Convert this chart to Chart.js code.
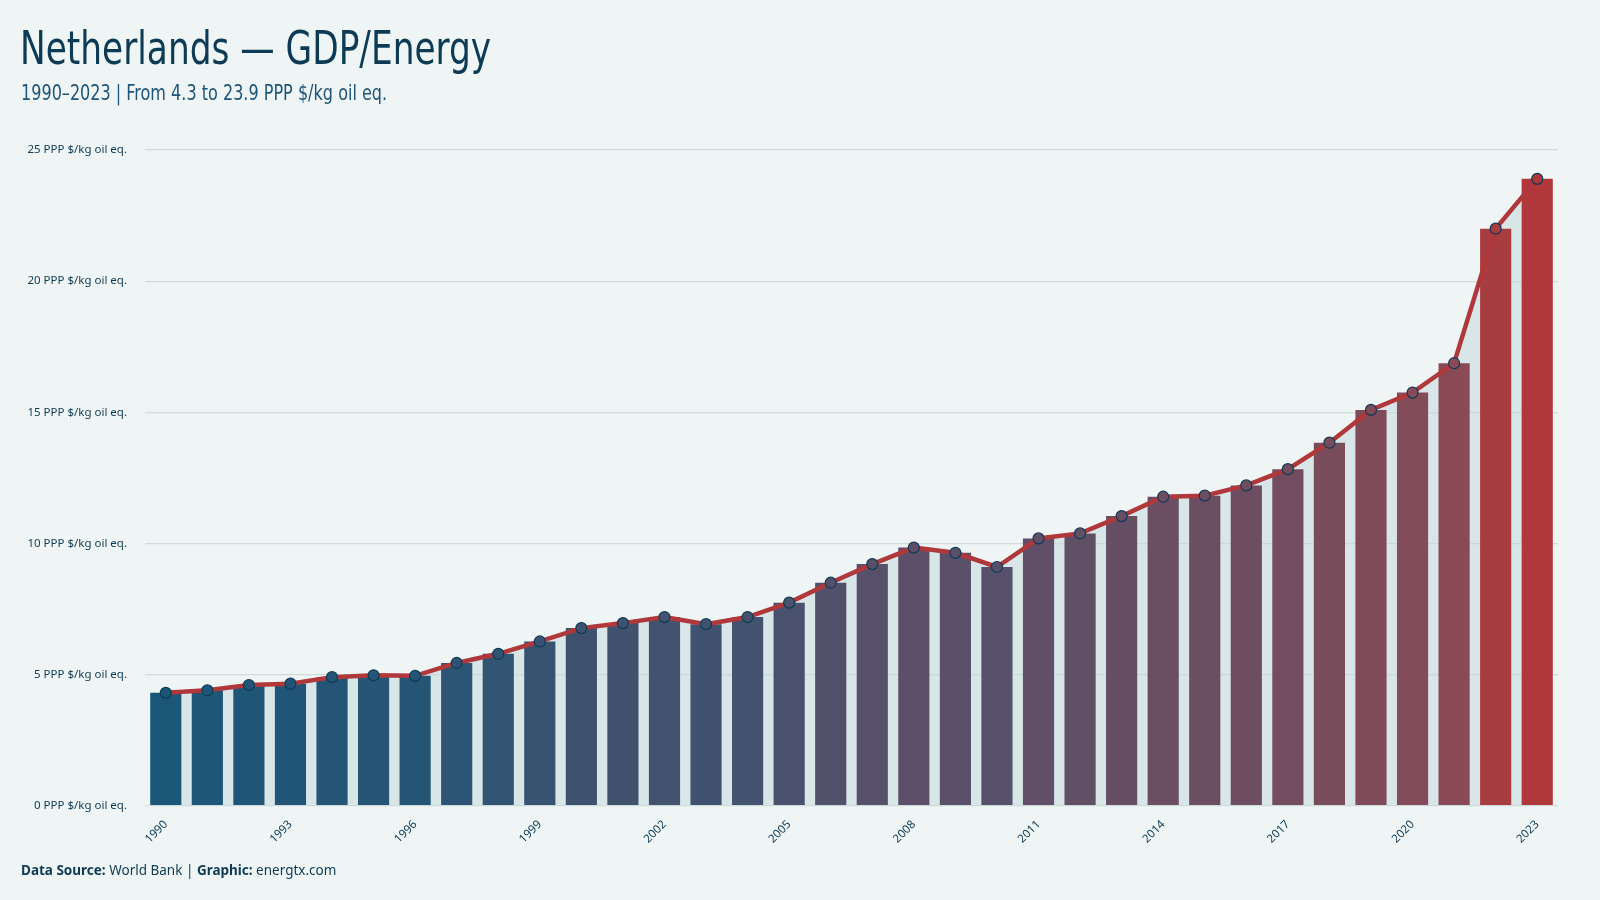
<!DOCTYPE html>
<html>
<head>
<meta charset="utf-8">
<script src="https://cdn.jsdelivr.net/npm/chart.js@4.4.1/dist/chart.umd.min.js"></script>
<style>
  html, body { margin: 0; padding: 0; background: #eff5f5; }
  #wrap { position: relative; width: 1600px; height: 900px; overflow: hidden; }
  #title {
    position: absolute; left: 20px; top: 21px; margin: 0;
    font-family: "Liberation Sans Narrow", "DejaVu Sans Condensed", sans-serif;
    font-weight: normal; font-size: 46px; color: #0d3a55;
    transform: scaleX(0.83); transform-origin: left top; white-space: nowrap;
  }
  #subtitle {
    position: absolute; left: 21px; top: 81px; margin: 0;
    font-family: "Liberation Sans Narrow", "DejaVu Sans Condensed", sans-serif;
    font-size: 21px; color: #1d5479;
    transform: scaleX(0.85); transform-origin: left top; white-space: nowrap;
  }
  #footer {
    position: absolute; left: 21px; top: 861px;
    font-family: "Noto Sans", sans-serif; font-size: 13.5px; color: #0d3a55;
  }
  #chart { position: absolute; left: 0; top: 0; }
</style>
</head>
<body>
<div id="wrap">
  <canvas id="chart" width="1600" height="900"></canvas>
  <h1 id="title">Netherlands — GDP/Energy</h1>
  <div id="subtitle">1990–2023 | From 4.3 to 23.9 PPP $/kg oil eq.</div>
  <div id="footer"><b>Data Source:</b> World Bank | <b>Graphic:</b> energtx.com</div>
</div>
<script>
// ********** data ************
const years = [
  1990, 1991, 1992, 1993, 1994, 1995, 1996, 1997, 1998, 1999,
  2000, 2001, 2002, 2003, 2004, 2005, 2006, 2007, 2008, 2009,
  2010, 2011, 2012, 2013, 2014, 2015, 2016, 2017, 2018, 2019,
  2020, 2021, 2022, 2023,
];
const gdpPerEnergy = [
  4.3, 4.4, 4.6, 4.65, 4.9, 4.97, 4.95, 5.44, 5.79, 6.26,
  6.77, 6.96, 7.19, 6.92, 7.19, 7.74, 8.5, 9.21, 9.84, 9.64,
  9.1, 10.19, 10.38, 11.04, 11.78, 11.82, 12.21, 12.83, 13.84, 15.09,
  15.75, 16.87, 22.0, 23.9,
];
const yTicks = [0, 5, 10, 15, 20, 25];
const unit = "PPP $/kg oil eq.";

// ********** colours ************
// blue -> plum -> red, spread on log of the value
const stops = [
  [0, [26, 86, 120]],
  [0.45, [88, 80, 106]],
  [0.8, [138, 74, 85]],
  [1, [176, 56, 59]],
];
const lo = Math.log(Math.min(...gdpPerEnergy));
const hi = Math.log(Math.max(...gdpPerEnergy));

function colorFor(v) {
  const t = (Math.log(v) - lo) / (hi - lo);
  for (let i = 1; i < stops.length; i++) {
    if (t <= stops[i][0]) {
      const a = stops[i - 1], b = stops[i];
      const k = (t - a[0]) / (b[0] - a[0]);
      const c = a[1].map((x, j) => Math.round(x + (b[1][j] - x) * k));
      return `rgb(${c[0]}, ${c[1]}, ${c[2]})`;
    }
  }
  return "rgb(176, 56, 59)";
}
const barColors = gdpPerEnergy.map(colorFor);

// ********** chart ************
Chart.defaults.font.family = '"Noto Sans", sans-serif';
Chart.defaults.color = "#0d3a55";

const ctx = document.getElementById("chart");
const myChart = new Chart(ctx, {
  data: {
    labels: years,
    datasets: [
      {
        type: "line",
        data: gdpPerEnergy,
        borderColor: "#b0383b",
        borderWidth: 4.5,
        tension: 0,
        fill: "origin",
        backgroundColor: "rgba(196, 216, 220, 0.55)",
        pointRadius: 5.5,
        pointHoverRadius: 5.5,
        pointBackgroundColor: barColors,
        pointBorderColor: "#0d3a55",
        pointBorderWidth: 1.2,
        order: 0,
      },
      {
        type: "bar",
        data: gdpPerEnergy,
        backgroundColor: barColors,
        categoryPercentage: 1,
        barPercentage: 0.75,
        order: 1,
      },
    ],
  },
  options: {
    responsive: false,
    animation: false,
    layout: {
      padding: { top: 150, right: 42, bottom: 50, left: 0 },
    },
    plugins: {
      legend: { display: false },
      tooltip: { enabled: false },
      filler: { drawTime: "beforeDatasetsDraw" },
    },
    scales: {
      x: {
        grid: { display: false },
        border: { display: false },
        ticks: {
          autoSkip: false,
          minRotation: 45,
          maxRotation: 45,
          padding: 4,
          font: { size: 11.5 },
          callback: (val, i) =>
            i % 3 === 0 || i === years.length - 1 ? years[i] : "",
        },
      },
      y: {
        min: 0,
        max: 25,
        afterFit: (scale) => {
          scale.width = 145;
        },
        afterBuildTicks: (scale) => {
          scale.ticks = yTicks.map((v) => ({ value: v }));
        },
        grid: { color: "#d0dcdc", lineWidth: 1.2, drawTicks: false },
        border: { display: false },
        ticks: {
          padding: 18,
          font: { size: 11.5 },
          callback: (v) => `${v} ${unit}`,
        },
      },
    },
  },
});
</script>
</body>
</html>
